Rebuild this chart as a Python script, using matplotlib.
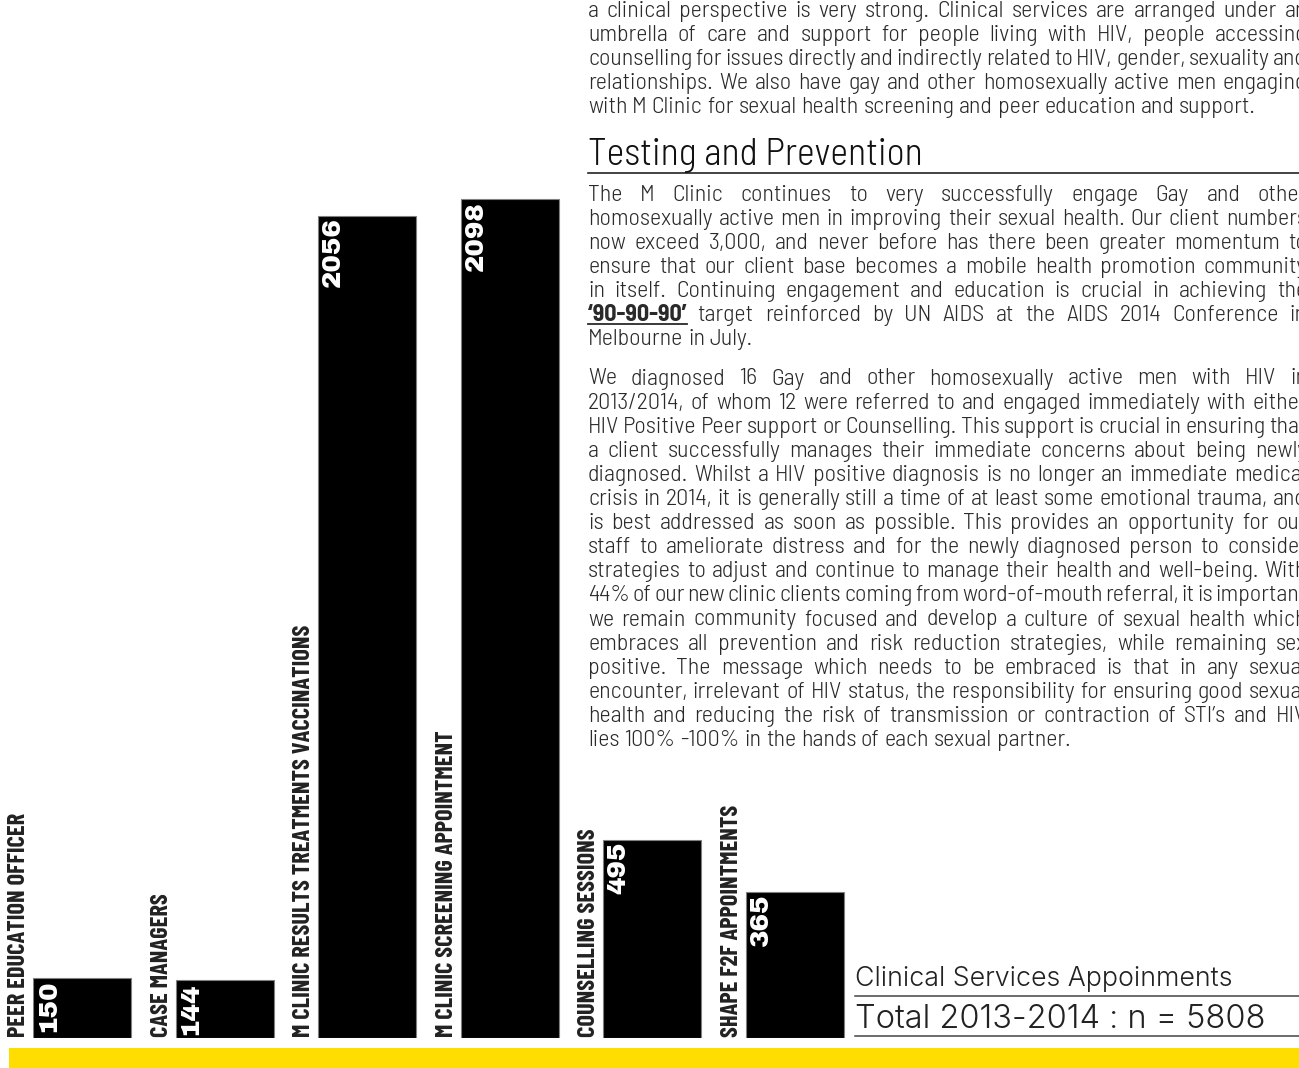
import matplotlib
matplotlib.use("Agg")
import matplotlib.pyplot as plt
from matplotlib.font_manager import FontProperties
from matplotlib.patches import Rectangle
from matplotlib.lines import Line2D
from matplotlib.transforms import offset_copy

# data
categories = ["PEER EDUCATION OFFICER", "CASE MANAGERS",
              "M CLINIC RESULTS TREATMENTS VACCINATIONS",
              "M CLINIC SCREENING APPOINTMENT", "COUNSELLING SESSIONS",
              "SHAPE F2F APPOINTMENTS"]
counts = [150, 144, 2056, 2098, 495, 365]

caption_title = "Clinical Services Appoinments"
caption_total = "Total 2013-2014 : n = 5808"
heading = "Testing and Prevention"
bold_token = "\u201890-90-90\u2019"

para_intro = [
    "a clinical perspective is very strong. Clinical services are arranged under an",
    "umbrella of care and support for people living with HIV, people accessing",
    "counselling for issues directly and indirectly related to HIV, gender, sexuality and",
    "relationships. We also have gay and other homosexually active men engaging",
    "with M Clinic for sexual health screening and peer education and support.",
]
para_testing = [
    "The M Clinic continues to very successfully engage Gay and other",
    "homosexually active men in improving their sexual health.  Our client numbers",
    "now exceed 3,000, and never before has there been greater momentum to",
    "ensure that our client base becomes a mobile health promotion community",
    "in itself.  Continuing engagement and education is crucial in achieving the",
    bold_token + " target reinforced by UN AIDS at the AIDS 2014 Conference in",
    "Melbourne in July.",
]
para_diagnosed = [
    "We diagnosed 16 Gay and other homosexually active men with HIV in",
    "2013/2014, of whom 12 were referred to and engaged immediately with either",
    "HIV Positive Peer support or Counselling. This support is crucial in ensuring that",
    "a client successfully manages their immediate concerns about being newly",
    "diagnosed. Whilst a HIV positive diagnosis is no longer an immediate medical",
    "crisis in 2014, it is generally still a time of at least some emotional trauma, and",
    "is best addressed as soon as possible.  This provides an opportunity for our",
    "staff to ameliorate distress and for the newly diagnosed person to consider",
    "strategies to adjust and continue to manage their health and well-being.  With",
    "44% of our new clinic clients coming from word-of-mouth referral, it is important",
    "we remain community focused and develop a culture of sexual health which",
    "embraces all prevention and risk reduction strategies, while remaining sex",
    "positive.  The message which needs to be embraced is that in any sexual",
    "encounter, irrelevant of HIV status, the responsibility for ensuring good sexual",
    "health and reducing the risk of transmission or contraction of STI\u2019s and HIV",
    "lies 100% -100% in the hands of each sexual partner.",
]

W, H = 1299, 1068
fig = plt.figure(figsize=(W / 100, H / 100), dpi=100)
fig.patch.set_facecolor("white")
renderer = fig.canvas.get_renderer()


def px(x):
    return x / W


def py(y):
    return 1 - y / H


def width_of(s, fp, size):
    t = fig.text(0, 0, s, fontproperties=fp, fontsize=size)
    w = t.get_window_extent(renderer).width
    t.remove()
    return w


def fit(s, fp, target):
    return 10 * target / width_of(s, fp, 10)


fp_body = FontProperties(family=["Barlow Semi Condensed", "DejaVu Sans"], weight=300)
fp_bold = FontProperties(family=["Barlow Semi Condensed", "DejaVu Sans"], weight=700)
fp_label = FontProperties(family=["Barlow Condensed", "DejaVu Sans"], weight=700)
fp_value = FontProperties(family=["Archivo Black", "DejaVu Sans"], weight="bold")
fp_caption = FontProperties(family=["Inter", "DejaVu Sans"], weight=300)

TXT = "#2a2a2a"

# bar chart
ax = fig.add_axes([px(33), py(1038), 6 * 142.6 / W, (1038 - 12) / H])
ax.set_xlim(0, 6)
ax.set_ylim(0, (1038 - 12) / 0.4)
ax.axis("off")
ax.patch.set_visible(False)
ax.bar(range(len(counts)), counts, width=98 / 142.6, align="edge",
       color="black", edgecolor="#808080", linewidth=0.8)

label_size = fit(categories[0], fp_label, 224)
value_size = fit("2098", fp_value, 70)
lab_tr = offset_copy(ax.transData, fig=fig, x=-8, y=1, units="dots")
val_tr = offset_copy(ax.transData, fig=fig, x=22, y=-2, units="dots")
for i, (cat, c) in enumerate(zip(categories, counts)):
    ax.text(i, 0, cat, transform=lab_tr, rotation=90, rotation_mode="anchor",
            ha="left", va="baseline", fontproperties=fp_label, fontsize=label_size,
            color="#222222", clip_on=False)
    ax.text(i, c, str(c), transform=val_tr, rotation=90, rotation_mode="anchor",
            ha="right", va="baseline", fontproperties=fp_value, fontsize=value_size,
            color="white", clip_on=False)

# body text, justified line by line
X0, X1 = 588, 1307
body_size = fit(para_intro[-1], fp_body, 670)
space_w = width_of("x x", fp_body, body_size) - width_of("xx", fp_body, body_size)


def draw_line(line, y, justify):
    words = line.split()
    texts, widths = [], []
    for w in words:
        fp = fp_bold if w == bold_token else fp_body
        t = fig.text(px(X0), py(y), w, fontproperties=fp, fontsize=body_size,
                     color=TXT, ha="left", va="baseline")
        texts.append(t)
        widths.append(t.get_window_extent(renderer).width)
    gap = space_w
    if justify and len(words) > 1:
        gap = (X1 - X0 - sum(widths)) / (len(words) - 1)
    x = X0
    for t, w, wd in zip(texts, words, widths):
        t.set_x(px(x))
        if w == bold_token:
            fig.add_artist(Line2D([px(x), px(x + wd)], [py(y + 3)] * 2,
                                  color=TXT, lw=1.3, transform=fig.transFigure))
        x += wd + gap


def draw_paragraph(lines, y0, step):
    for k, line in enumerate(lines):
        draw_line(line, y0 + k * step, k < len(lines) - 1)


draw_paragraph(para_intro, 16.7, 24.0)
draw_paragraph(para_testing, 200.7, 24.1)
draw_paragraph(para_diagnosed, 384.5, 24.1)

heading_size = fit(heading, fp_body, 335)
fig.text(px(X0), py(165), heading, fontproperties=fp_body, fontsize=heading_size,
         color="#111111", ha="left", va="baseline")
fig.add_artist(Line2D([px(X0), 1], [py(173)] * 2, color="#222222", lw=1.2,
                      transform=fig.transFigure))

# caption bottom right
fig.text(px(855), py(986), caption_title, fontproperties=fp_caption,
         fontsize=fit(caption_title, fp_caption, 378), color="#222222",
         ha="left", va="baseline")
fig.text(px(855), py(1028), caption_total, fontproperties=fp_caption,
         fontsize=fit(caption_total, fp_caption, 409), color="#222222",
         ha="left", va="baseline")
for yy in (996, 1036):
    fig.add_artist(Line2D([px(855), 1], [py(yy)] * 2, color="#444444", lw=1.1,
                          transform=fig.transFigure))

# yellow band
fig.add_artist(Rectangle((px(9), 0), 1, (H - 1048) / H, transform=fig.transFigure,
                         color="#FFDD00", lw=0))

fig.savefig("out.png", dpi=100)
